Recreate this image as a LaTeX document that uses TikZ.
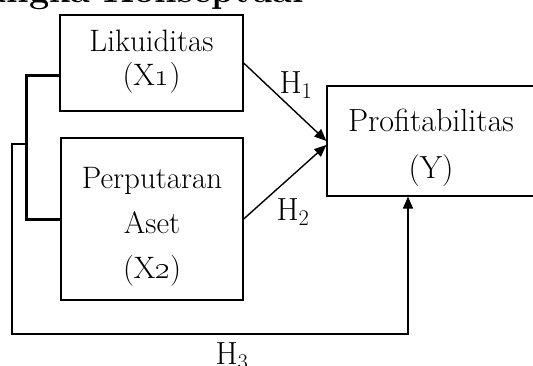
\documentclass[tikz,border=0pt]{standalone}
\usepackage{fix-cm}
\usepackage{tikz}
\usetikzlibrary{arrows.meta, positioning, calc}

\begin{document}
\begin{tikzpicture}[x=1pt,y=-1pt,
	varbox/.style={draw,line width=1.3pt,rectangle,inner sep=0pt},
	vartext/.style={align=center,inner sep=0pt},
	hyp/.style={font=\fontsize{32}{36}\selectfont},
	effect/.style={line width=1.4pt,-{Triangle[length=12pt,width=10pt]}},
	pairline/.style={line width=3pt},
	jointline/.style={line width=2pt,-{Triangle[length=12pt,width=10pt]}}]
	\useasboundingbox (0,0) rectangle (533,365);
	\clip (0,0) rectangle (533,365);
	% heading (cut off by the page edge)
	\node[anchor=base west,inner sep=0pt,font=\fontsize{36}{42}\selectfont\bfseries] (head) at (-80,2) {Kerangka Konseptual};
	% variable boxes
	\node[varbox,minimum width=183pt,minimum height=96pt] (lik) at (151.5,63) {};
	\node[varbox,minimum width=182pt,minimum height=162pt] (per) at (152,219) {};
	\node[varbox,minimum width=208pt,minimum height=110pt] (prof) at (431,141) {};
	\node[vartext,font=\fontsize{31}{34}\selectfont] (likt) at (151.5,62) {Likuiditas\\(X\oldstylenums{1})};
	\node[vartext,font=\fontsize{31}{45}\selectfont] (pert) at (152,227) {Perputaran\\Aset\\(X\oldstylenums{2})};
	\node[vartext,font=\fontsize{32}{47}\selectfont] (proft) at (431,148) {Profitabilitas\\(Y)};
	% partial effects
	\draw[effect] (lik.east) -- (prof.west);
	\draw[effect] (per.east) -- ([yshift=-4pt]prof.west);
	\node[hyp] (h1) at (296,85) {H\textsubscript{1}};
	\node[hyp] (h2) at (293,212) {H\textsubscript{2}};
	% joint effect
	\draw[pairline] ([yshift=-12pt]lik.west) -- ++(-33,0) |- (per.west);
	\coordinate (jn) at (27,144);
	\coordinate (corner) at (12,334);
	\draw[jointline] (jn) -- (jn -| corner) -- (corner) -| ([xshift=-23pt]prof.south);
	\node[hyp] (h3) at (232,356) {H\textsubscript{3}};
\end{tikzpicture}
\end{document}
